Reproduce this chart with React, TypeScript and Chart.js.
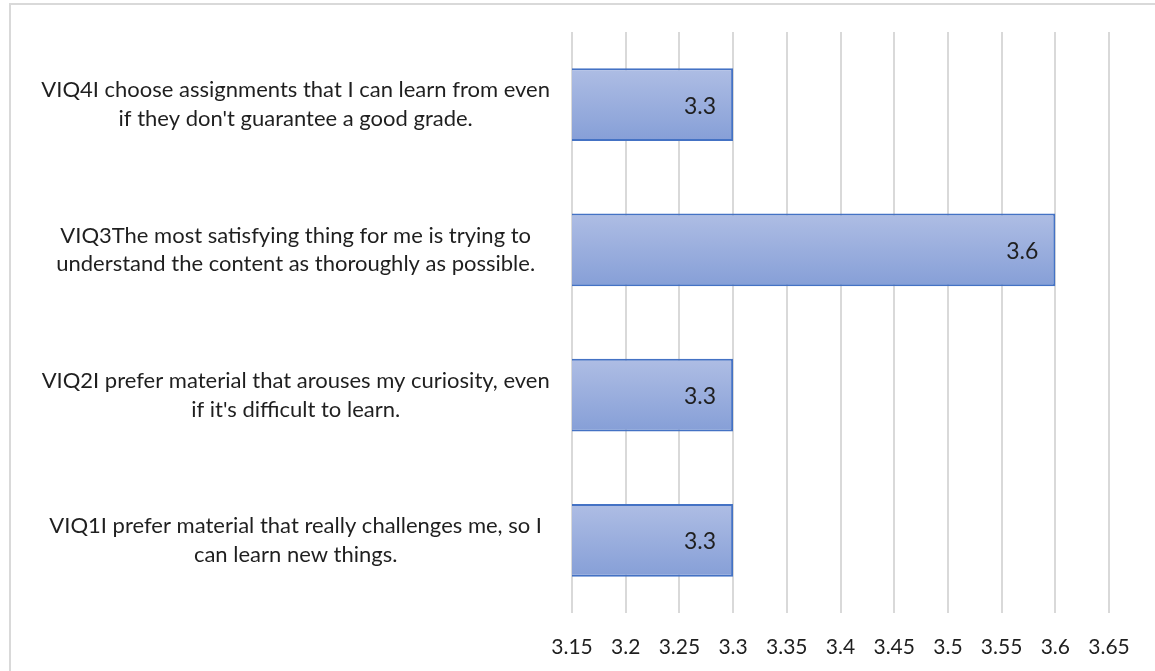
import React, { useEffect, useRef } from "react";
import { Chart, registerables } from "chart.js";

Chart.register(...registerables);

const categoryLines: string[][] = [
  ["VIQ4I choose assignments that I can learn from even", "if they don't guarantee a good grade."],
  ["VIQ3The most satisfying thing for me is trying to", "understand the content as thoroughly as possible."],
  ["VIQ2I prefer material that arouses my curiosity, even", "if it's difficult to learn."],
  ["VIQ1I prefer material that really challenges me, so I", "can learn new things."],
];
const seriesValues: number[] = [3.3, 3.6, 3.3, 3.3];
const xTickValues: number[] = [3.15, 3.2, 3.25, 3.3, 3.35, 3.4, 3.45, 3.5, 3.55, 3.6, 3.65];
const xTickLabels: string[] = ["3.15", "3.2", "3.25", "3.3", "3.35", "3.4", "3.45", "3.5", "3.55", "3.6", "3.65"];

const FONT = "Lato, 'Noto Sans', sans-serif";
const TEXT = "#1f1f1f";

const valueLabelPlugin = {
  id: "valueLabels",
  afterDatasetsDraw(chart: any) {
    const ctx = chart.ctx;
    const meta = chart.getDatasetMeta(0);
    ctx.save();
    ctx.font = `23px ${FONT}`;
    ctx.fillStyle = TEXT;
    ctx.textAlign = "right";
    ctx.textBaseline = "middle";
    meta.data.forEach((bar: any, i: number) => {
      ctx.fillText(String(seriesValues[i]), bar.x - 17, bar.y + 1.5);
    });
    ctx.restore();
  },
};

const frameBorderPlugin = {
  id: "frameBorder",
  beforeDraw(chart: any) {
    const ctx = chart.ctx;
    ctx.save();
    ctx.strokeStyle = "#d9d9d9";
    ctx.lineWidth = 2;
    ctx.beginPath();
    ctx.moveTo(10, 671);
    ctx.lineTo(10, 4);
    ctx.lineTo(1155, 4);
    ctx.stroke();
    ctx.restore();
  },
};

export default function App() {
  const canvasRef = useRef<HTMLCanvasElement | null>(null);

  useEffect(() => {
    if (!canvasRef.current) return;
    const chart = new Chart(canvasRef.current, {
      type: "bar",
      data: {
        labels: categoryLines,
        datasets: [
          {
            data: seriesValues,
            backgroundColor: (c: any) => {
              const ch = c.chart;
              const ys = ch.scales && ch.scales.y;
              if (!ys || c.dataIndex === undefined) return "#9aafdd";
              const cy = ys.getPixelForValue(c.dataIndex);
              if (!isFinite(cy)) return "#9aafdd";
              const g = ch.ctx.createLinearGradient(0, cy - 36, 0, cy + 36);
              g.addColorStop(0, "#aebde4");
              g.addColorStop(1, "#869fd7");
              return g;
            },
            borderColor: "#4472c4",
            borderWidth: 2,
            borderSkipped: false,
            categoryPercentage: 1,
            barPercentage: 0.5,
          },
        ],
      },
      options: {
        indexAxis: "y",
        animation: false,
        responsive: false,
        maintainAspectRatio: false,
        layout: { padding: { top: 32, right: 46, bottom: 0, left: 0 } },
        plugins: {
          legend: { display: false },
          tooltip: { enabled: false },
          title: { display: false },
        },
        scales: {
          x: {
            type: "linear",
            min: 3.15,
            max: 3.65,
            afterBuildTicks: (scale: any) => {
              scale.ticks = xTickValues.map((v) => ({ value: v }));
            },
            afterFit: (scale: any) => {
              scale.height = 58;
              scale.paddingLeft = 0;
              scale.paddingRight = 0;
            },
            grid: { color: "#d9d9d9", lineWidth: 2, drawTicks: false },
            border: { display: false },
            ticks: {
              padding: 22,
              color: TEXT,
              font: { family: FONT, size: 21 },
              maxRotation: 0,
              autoSkip: false,
              callback: (_v: any, i: number) => xTickLabels[i],
            },
          },
          y: {
            type: "category",
            afterFit: (scale: any) => {
              scale.width = 572;
              scale.paddingTop = 0;
              scale.paddingBottom = 0;
            },
            grid: { display: false, drawTicks: false },
            border: { display: false },
            ticks: {
              crossAlign: "center",
              padding: 22,
              color: TEXT,
              font: { family: FONT, size: 22, lineHeight: 1.3 },
              autoSkip: false,
            },
          },
        },
      },
      plugins: [frameBorderPlugin, valueLabelPlugin],
    });
    return () => chart.destroy();
  }, []);

  return (
    <div style={{ position: "fixed", left: 0, top: 0, width: 1155, height: 671, overflow: "hidden", background: "#fff" }}>
      <canvas ref={canvasRef} width={1155} height={671} style={{ display: "block" }} />
    </div>
  );
}
